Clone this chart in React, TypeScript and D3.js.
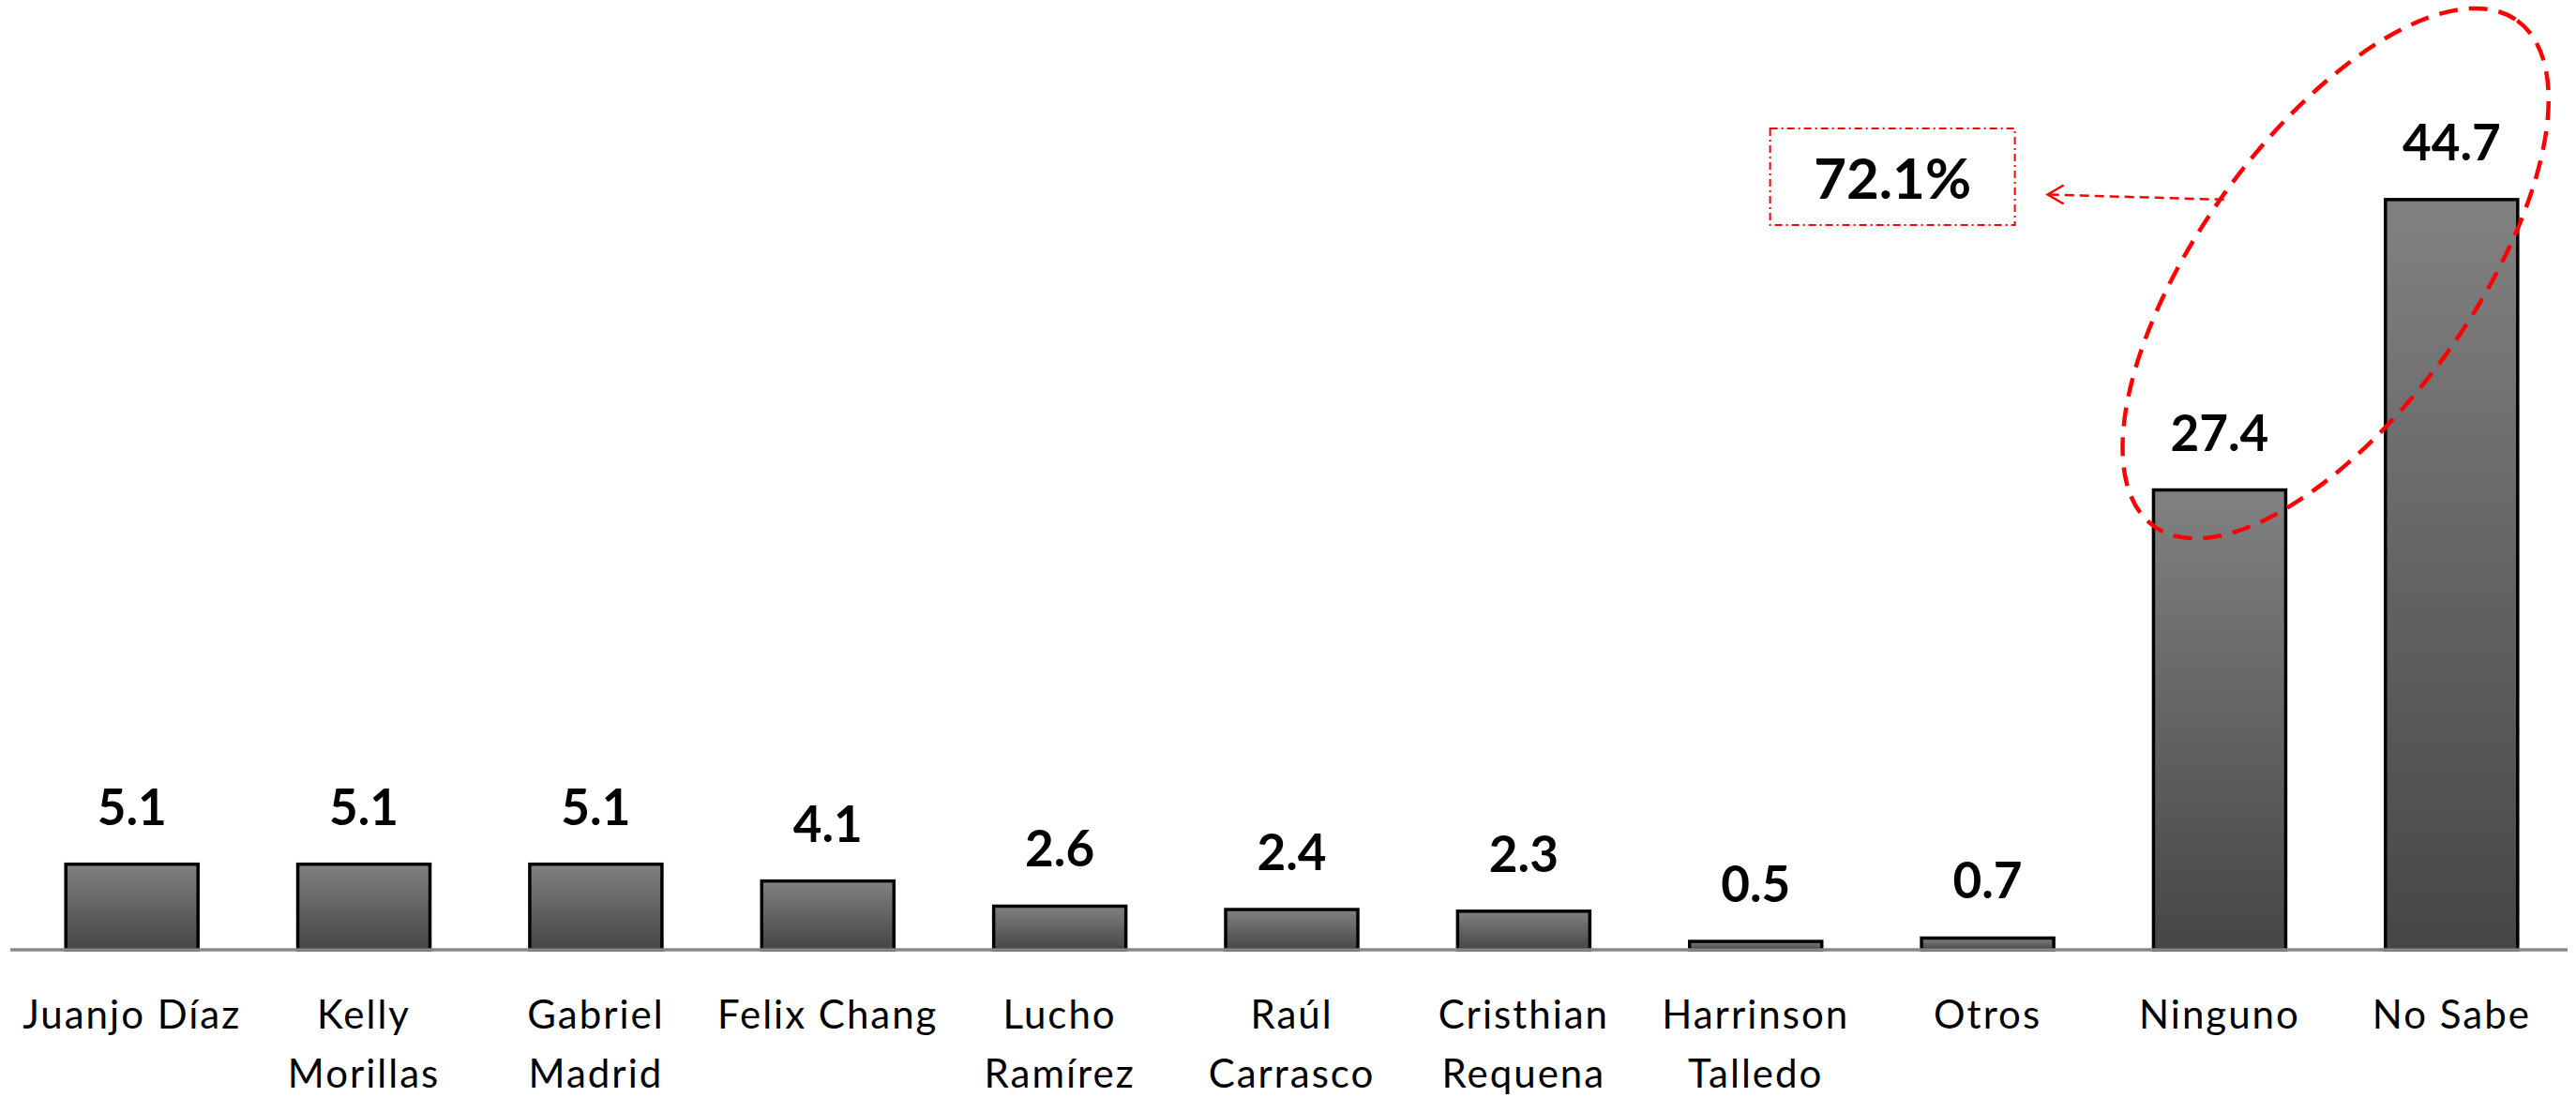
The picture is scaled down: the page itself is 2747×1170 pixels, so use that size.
import React from 'react';
import * as d3 from 'd3';

// encuesta: intención de voto (%)
const categories = [
  ['Juanjo Díaz'],
  ['Kelly', 'Morillas'],
  ['Gabriel', 'Madrid'],
  ['Felix Chang'],
  ['Lucho', 'Ramírez'],
  ['Raúl', 'Carrasco'],
  ['Cristhian', 'Requena'],
  ['Harrinson', 'Talledo'],
  ['Otros'],
  ['Ninguno'],
  ['No Sabe'],
];
const values = [5.1, 5.1, 5.1, 4.1, 2.6, 2.4, 2.3, 0.5, 0.7, 27.4, 44.7];
const highlighted = ['Ninguno', 'No Sabe'];

const W = 2747;
const H = 1170;
const axisY = 1013;

const App = () => {
  const keys = categories.map(c => c.join(' '));

  const x = d3.scaleBand<string>().domain(keys).range([17, 2738]).paddingInner(0.43).paddingOuter(0.215);
  const y = d3.scaleLinear().domain([0, 50]).range([axisY, axisY - 895]);

  const total = highlighted.reduce((s, k) => s + values[keys.indexOf(k)], 0);
  const centers = highlighted.map(k => (x(k) as number) + x.bandwidth() / 2);
  const cx = (centers[0] + centers[1]) / 2;
  const cy = y(40.3);

  // arrow + box sit to the left of the ellipse
  const arrowStart = [cx - 119, y(44.7)];
  const arrowEnd = [cx - 307, y(45)];
  const box = { x: cx - 603, y: 137, w: 261, h: 103 };

  return (
    <div style={{ position: 'absolute', left: 0, top: 0 }}>
      <svg width={W} height={H} style={{ display: 'block', background: '#fff' }}>
        <defs>
          <linearGradient id="barFill" x1="0" y1="0" x2="0" y2="1">
            <stop offset="0%" stopColor="#818181" />
            <stop offset="100%" stopColor="#464646" />
          </linearGradient>
        </defs>

        {values.map((v, i) => (
          <rect
            key={keys[i]}
            x={x(keys[i])}
            y={y(v)}
            width={x.bandwidth()}
            height={axisY - y(v)}
            fill="url(#barFill)"
            stroke="#000"
            strokeWidth={3.5}
          />
        ))}

        <line x1={11} x2={2738} y1={axisY} y2={axisY} stroke="#878787" strokeWidth={3.5} />

        {values.map((v, i) => (
          <text
            key={'v' + i}
            x={(x(keys[i]) as number) + x.bandwidth() / 2}
            y={y(v) - 42}
            textAnchor="middle"
            fontFamily="Lato"
            fontWeight="bold"
            fontSize={53}
            fill="#000"
          >
            {v.toFixed(1)}
          </text>
        ))}

        {categories.map((lines, i) => (
          <text
            key={'c' + i}
            x={(x(keys[i]) as number) + x.bandwidth() / 2}
            y={1097}
            textAnchor="middle"
            fontFamily="Lato"
            fontSize={42}
            letterSpacing={2}
            fill="#000"
          >
            {lines.map((l, j) => (
              <tspan key={j} x={(x(keys[i]) as number) + x.bandwidth() / 2} dy={j === 0 ? 0 : 63}>
                {l}
              </tspan>
            ))}
          </text>
        ))}

        {/* annotation */}
        <ellipse
          cx={cx}
          cy={cy}
          rx={332}
          ry={146}
          transform={`rotate(-54.3, ${cx}, ${cy})`}
          fill="none"
          stroke="#ff0000"
          strokeWidth={4.5}
          strokeDasharray="20 12"
        />
        <line
          x1={arrowStart[0]}
          y1={arrowStart[1]}
          x2={arrowEnd[0]}
          y2={arrowEnd[1]}
          stroke="#ff0000"
          strokeWidth={2.5}
          strokeDasharray="10 6"
        />
        <path
          d={`M${arrowEnd[0] + 17},${arrowEnd[1] - 10} L${arrowEnd[0]},${arrowEnd[1]} L${arrowEnd[0] + 17},${arrowEnd[1] + 10}`}
          fill="none"
          stroke="#ff0000"
          strokeWidth={2.5}
        />
        <rect
          x={box.x}
          y={box.y}
          width={box.w}
          height={box.h}
          fill="none"
          stroke="#ff0000"
          strokeWidth={2}
          strokeDasharray="8 4 2 4"
        />
        <text
          x={box.x + box.w / 2}
          y={212}
          textAnchor="middle"
          fontFamily="Lato"
          fontWeight="bold"
          fontSize={60}
          fill="#000"
        >
          {total.toFixed(1)}%
        </text>
      </svg>
    </div>
  );
};

export default App;
